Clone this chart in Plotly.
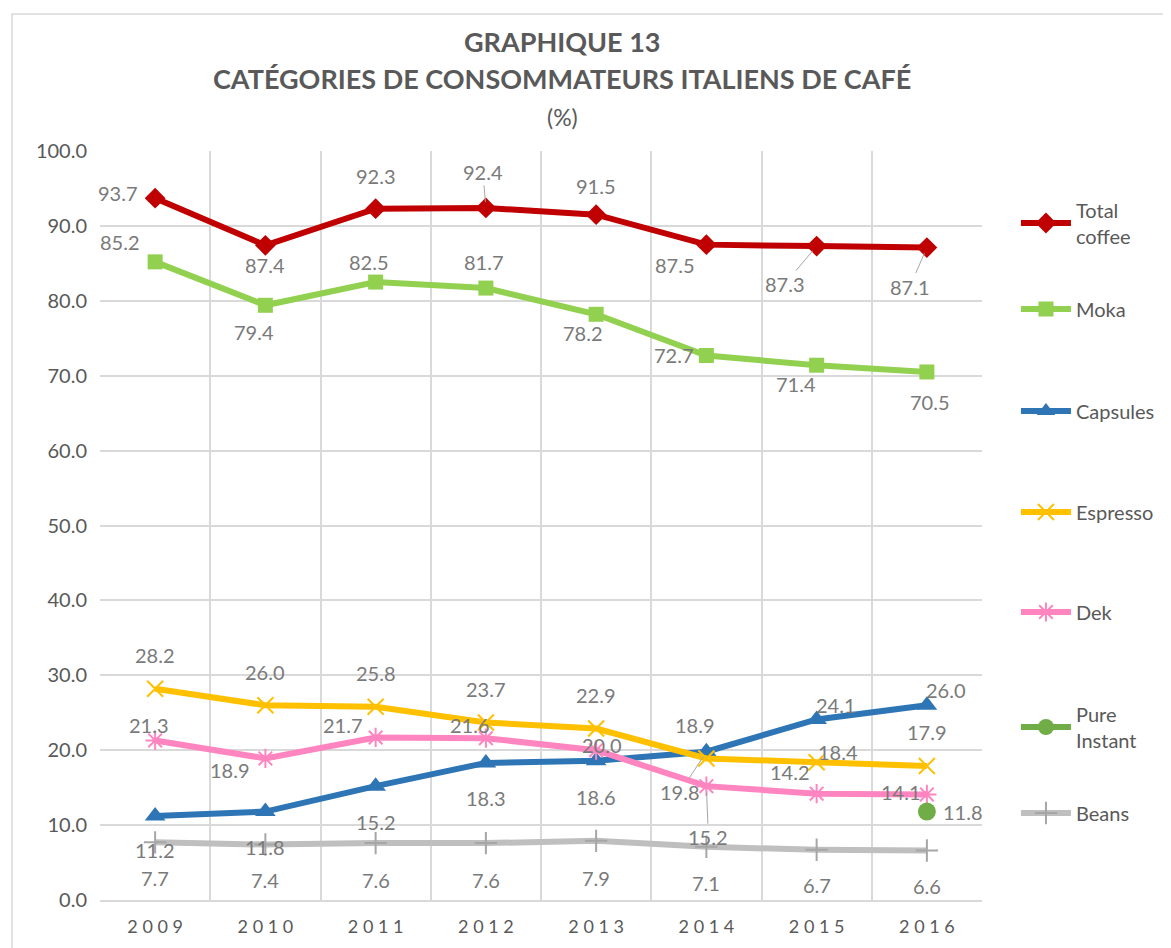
import plotly.graph_objects as go

years = ["2009", "2010", "2011", "2012", "2013", "2014", "2015", "2016"]
total_coffee = [93.7, 87.4, 92.3, 92.4, 91.5, 87.5, 87.3, 87.1]
moka = [85.2, 79.4, 82.5, 81.7, 78.2, 72.7, 71.4, 70.5]
capsules = [11.2, 11.8, 15.2, 18.3, 18.6, 19.8, 24.1, 26.0]
espresso = [28.2, 26.0, 25.8, 23.7, 22.9, 18.9, 18.4, 17.9]
dek = [21.3, 18.9, 21.7, 21.6, 20.0, 15.2, 14.2, 14.1]
pure_instant = [None, None, None, None, None, None, None, 11.8]
beans = [7.7, 7.4, 7.6, 7.6, 7.9, 7.1, 6.7, 6.6]
y_ticks = [0, 10, 20, 30, 40, 50, 60, 70, 80, 90, 100]

# label offsets in pixels (dx right, dy down) and leader-line flags
offsets = {
    "Total coffee": [(-37, -5), (0, 20), (0, -33), (-3, -36), (0, -29), (-31, 20), (-32, 38), (-17, 39)],
    "Moka": [(-35, -20), (-11, 27), (-7, -20), (-2, -26), (-13, 19), (-32, 0), (-21, 19), (3, 30)],
    "Capsules": [(0, 34), (0, 35), (0, 36), (0, 35), (0, 36), (-26, 40), (19, -14), (19, -15)],
    "Espresso": [(0, -34), (0, -33), (0, -34), (0, -33), (0, -33), (-11, -33), (21, -10), (0, -34)],
    "Dek": [(-6, -15), (-35, 12), (-33, -12), (-16, -13), (6, -5), (2, 51), (-27, -22), (-26, -2)],
    "Pure Instant": [None] * 7 + [(36, 0)],
    "Beans": [(0, 36), (0, 35), (0, 37), (0, 37), (0, 37), (0, 36), (0, 35), (0, 35)],
}
leaders = {
    "Total coffee": [3, 6, 7],
    "Capsules": [5],
    "Dek": [5],
}

series = [
    ("Total coffee", "Total<br>coffee", total_coffee, "#C00000", dict(symbol="diamond", size=16)),
    ("Moka", "Moka", moka, "#92D050", dict(symbol="square", size=15)),
    ("Capsules", "Capsules", capsules, "#2E75B6", dict(symbol="triangle-up", size=18)),
    ("Espresso", "Espresso", espresso, "#FFC000",
     dict(symbol="x-thin", size=16, line=dict(width=2, color="#FFC000"))),
    ("Dek", "Dek", dek, "#FF85C0",
     dict(symbol="asterisk", size=16, line=dict(width=2, color="#FF85C0"))),
    ("Pure Instant", "Pure<br>Instant", pure_instant, "#70AD47", dict(symbol="circle", size=18)),
    ("Beans", "Beans", beans, "#BFBFBF",
     dict(symbol="cross-thin", size=16, line=dict(width=2, color="#A6A6A6"))),
]
# legend item centres (page px) -> paper coords
legend_centres = [223, 309, 411, 512, 612, 727, 813]

FONT = "Lato"
LABEL_COLOR = "#7A7A7A"
AXIS_COLOR = "#595959"
PLOT_TOP, PLOT_BOTTOM = 151, 900
PLOT_H = PLOT_BOTTOM - PLOT_TOP

fig = go.Figure()
annotations = []
legends = {}
for i, (key, lname, vals, color, mk) in enumerate(series):
    mk = dict(mk)
    mk["color"] = color
    lg = "legend" if i == 0 else f"legend{i + 1}"
    fig.add_trace(go.Scatter(
        x=years, y=vals, name=lname, mode="lines+markers",
        line=dict(color=color, width=6), marker=mk,
        legend=lg, cliponaxis=False,
    ))
    legends[lg] = dict(
        x=1.0385, y=(PLOT_BOTTOM - legend_centres[i]) / PLOT_H,
        xanchor="left", yanchor="middle",
        font=dict(family=FONT, size=20, color=AXIS_COLOR),
        itemwidth=50, bgcolor="rgba(0,0,0,0)",
    )
    for j, v in enumerate(vals):
        if v is None:
            continue
        dx, dy = offsets[key][j]
        if j in leaders.get(key, []):
            annotations.append(dict(
                x=j, y=v, xref="x", yref="y", text=f"{v:.1f}",
                showarrow=True, arrowhead=0, arrowwidth=1, arrowcolor="#A6A6A6",
                ax=dx, ay=dy, standoff=6,
                font=dict(family=FONT, size=20, color=LABEL_COLOR),
            ))
        else:
            annotations.append(dict(
                x=j, y=v, xref="x", yref="y", text=f"{v:.1f}",
                showarrow=False, xshift=dx, yshift=-dy,
                font=dict(family=FONT, size=20, color=LABEL_COLOR),
            ))

# titles
def py(p):
    return (PLOT_BOTTOM - p) / PLOT_H

annotations += [
    dict(x=0.524, y=py(41), xref="paper", yref="paper", text="<b>GRAPHIQUE 13</b>",
         xanchor="center", yanchor="middle",
         showarrow=False, font=dict(family=FONT, size=27, color=AXIS_COLOR)),
    dict(x=0.524, y=py(79), xref="paper", yref="paper",
         text="<b>CATÉGORIES DE CONSOMMATEURS ITALIENS DE CAFÉ</b>",
         xanchor="center", yanchor="middle",
         showarrow=False, font=dict(family=FONT, size=27, color=AXIS_COLOR)),
    dict(x=0.524, y=py(117), xref="paper", yref="paper", text="(%)",
         xanchor="center", yanchor="middle",
         showarrow=False, font=dict(family=FONT, size=23, color=AXIS_COLOR)),
]

# page has an 8px body margin: page px = 8 + figure px
fig.update_layout(
    width=1163, height=940,
    template="none",
    paper_bgcolor="white", plot_bgcolor="white",
    margin=dict(l=92, r=189, t=143, b=48, autoexpand=False),
    font=dict(family=FONT, color=AXIS_COLOR),
    annotations=annotations,
    showlegend=True,
    shapes=[dict(type="rect", xref="paper", yref="paper",
                 x0=(12 - 100) / 882, x1=1.3, y0=-0.2, y1=py(14),
                 line=dict(color="#D9D9D9", width=1.5), layer="below")],
    **legends,
)
fig.update_xaxes(
    type="category", categoryorder="array", categoryarray=years,
    tickvals=years, ticktext=[" ".join(list(y)) for y in years],
    tickson="boundaries", range=[-0.5, 7.5],
    showgrid=True, gridcolor="#D9D9D9", gridwidth=1.5,
    showline=True, linecolor="#D9D9D9", linewidth=1.5,
    ticks="", tickfont=dict(family=FONT, size=18, color=AXIS_COLOR),
    ticklabelstandoff=10, automargin=False, zeroline=False,
)
fig.update_yaxes(
    range=[0, 100], tickvals=y_ticks, tickformat=".1f",
    showgrid=True, gridcolor="#D9D9D9", gridwidth=1.5,
    zeroline=False, showline=False, ticks="",
    tickfont=dict(family=FONT, size=20, color=AXIS_COLOR),
    ticklabelstandoff=12, automargin=False,
)

fig.write_html("out.html")
